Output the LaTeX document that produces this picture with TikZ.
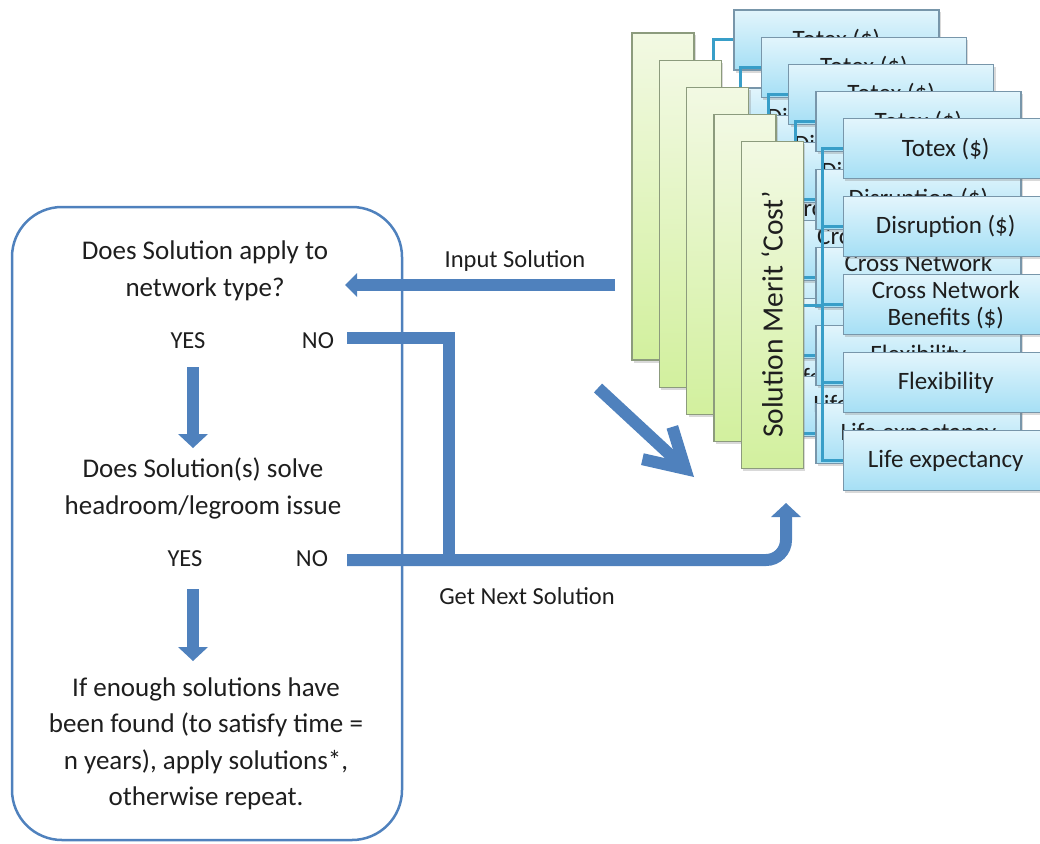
\documentclass[tikz,border=0pt]{standalone}
\usepackage{fontspec}
\setmainfont{Carlito}
\usetikzlibrary{arrows.meta,shadows,positioning}

\definecolor{flowblue}{RGB}{79,129,189}
\definecolor{barline}{RGB}{140,155,125}
\definecolor{bartop}{RGB}{242,249,227}
\definecolor{barbot}{RGB}{210,240,158}
\definecolor{boxtop}{RGB}{226,245,252}
\definecolor{boxbot}{RGB}{165,223,245}
\definecolor{boxline}{RGB}{120,150,170}
\definecolor{linkteal}{RGB}{56,158,200}
\definecolor{inktext}{RGB}{30,30,30}

\tikzset{
  question/.style={align=center,text=inktext,font=\fontsize{27}{36.5}\selectfont},
  answer/.style={text=inktext,font=\fontsize{24.5}{28}\selectfont},
  flowlabel/.style={text=inktext,font=\fontsize{24.5}{28}\selectfont},
  flow/.style={draw=flowblue,line width=12pt},
  flowtip/.style={-{Triangle[length=14pt,width=30pt,line width=0pt]}},
  smalltip/.style={-{Triangle[length=12pt,width=24pt,line width=0pt]}},
  meritbar/.style={draw=barline,line width=1.2pt,top color=bartop,bottom color=barbot,
    minimum width=62pt,minimum height=327pt,inner sep=0pt,text=inktext,
    font=\fontsize{29.5}{32}\selectfont,
    drop shadow={shadow xshift=2pt,shadow yshift=-2.5pt,opacity=0.3}},
  measure/.style={draw=boxline,line width=1.2pt,top color=boxtop,bottom color=boxbot,
    minimum width=205pt,minimum height=60pt,inner sep=0pt,align=center,text=inktext,
    font=\fontsize{25}{26.5}\selectfont,
    drop shadow={shadow xshift=2pt,shadow yshift=-2.5pt,opacity=0.3}},
  link/.style={draw=linkteal,line width=3pt},
}

\begin{document}
\begin{tikzpicture}[x=1pt,y=-1pt]
\useasboundingbox (0,0) rectangle (1040,843);
\clip (0,0) rectangle (1040,843);

% stacked merit cards, back to front
\foreach \i in {0,...,4}{
  \begin{scope}[shift={(27.3*\i,27.2*\i)}]
    \node[meritbar] (merit\i) at (663,196.5) {\ifnum\i=4 \rotatebox{90}{\hspace*{-18pt}Solution Merit ‘Cost’}\fi};
    \node[measure] (totex\i) at (836.5,40) {Totex (\$)};
    \node[measure] (disrupt\i) at (836.5,118) {Disruption (\$)};
    \node[measure] (cross\i) at (836.5,196) {Cross Network\\Benefits (\$)};
    \node[measure] (flex\i) at (836.5,274) {Flexibility};
    \node[measure] (life\i) at (836.5,352) {Life expectancy};
    \foreach \b in {totex,disrupt,cross,flex,life}
      \draw[link] (merit\i.east) -- ++(19,0) |- (\b\i.west);
  \end{scope}
}

% decision panel
\node[draw=flowblue,line width=2.5pt,rounded corners=50pt,
  minimum width=390pt,minimum height=633pt] (panel) at (207,523.5) {};

\node[question] (q1) at (205,271) {Does Solution apply to\\network type?};
\node[answer] (yes1) at (188,341) {YES};
\node[answer] (no1) at (318,341) {NO};
\node[question] (q2) at (203,488.5) {Does Solution(s) solve\\headroom/legroom issue};
\node[answer] (yes2) at (185,559) {YES};
\node[answer] (no2) at (312,559) {NO};
\node[question] (q3) at (206,744) {If enough solutions have\\been found (to satisfy time =\\n years), apply solutions*,\\otherwise repeat.};

\node[flowlabel] (inlabel) at (515,261) {Input Solution};
\node[flowlabel] (nextlabel) at (527,596) {Get Next Solution};

% arrow ends
\coordinate (a1s) at (193,367);
\coordinate (a1e) at (193,448);
\coordinate (a2s) at (193,589);
\coordinate (a2e) at (193,661);
\coordinate (ins) at (615,285);
\coordinate (ine) at (345,285);
\coordinate (no1s) at (347,338);
\coordinate (join) at (449,560);
\coordinate (no2s) at (347,560);
\coordinate (mtip) at (786,503);
\coordinate (diags) at (598,388);
\coordinate (diage) at (694,477);

\draw[flow,flowtip] (a1s) -- (a1e);
\draw[flow,flowtip] (a2s) -- (a2e);
\draw[flow,smalltip] (ins) -- (ine);
\draw[flow] (no1s) -| (join);
\draw[flow,flowtip,rounded corners=20pt] (no2s) -| (mtip);
\draw[flow,-{Straight Barb[length=38pt,width=44pt]}] (diags) -- (diage);
\end{tikzpicture}
\end{document}
